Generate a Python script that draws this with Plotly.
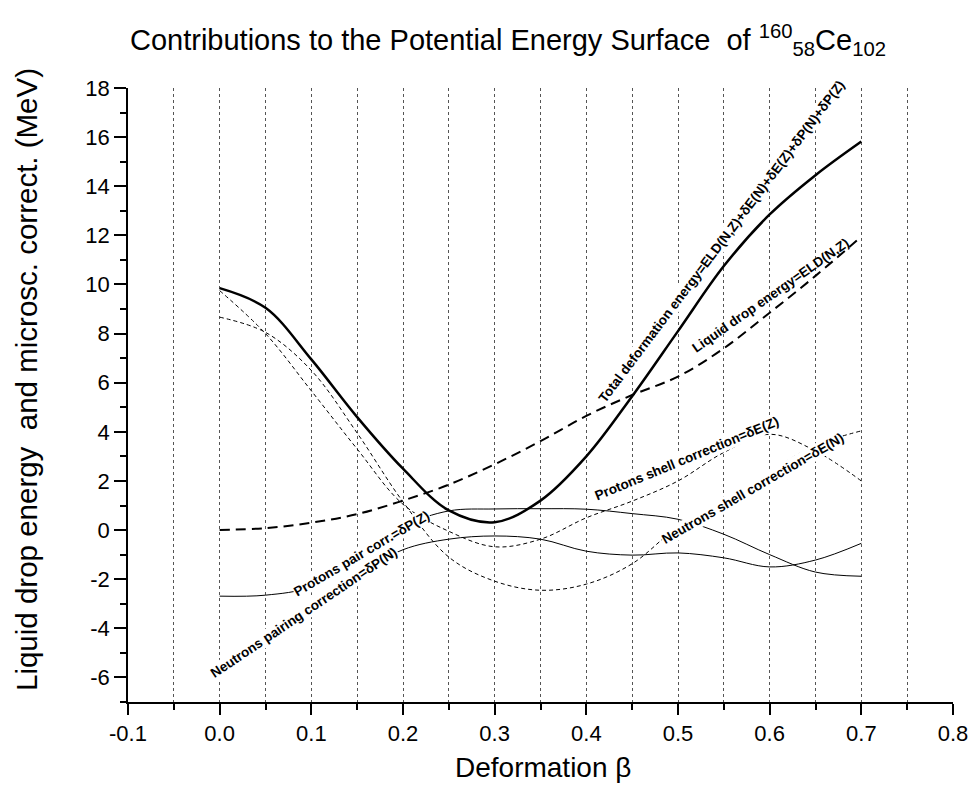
import plotly.graph_objects as go

# ---------------- data ----------------
beta = [0.00, 0.05, 0.10, 0.15, 0.20, 0.25, 0.30, 0.35, 0.40, 0.45, 0.50, 0.55, 0.60, 0.65, 0.70]
e_total = [9.85, 9.05, 6.95, 4.60, 2.50, 0.80, 0.32, 1.20, 3.00, 5.45, 8.10, 10.75, 12.85, 14.45, 15.82]
e_ld = [0.00, 0.08, 0.30, 0.65, 1.20, 1.85, 2.68, 3.62, 4.65, 5.50, 6.25, 7.40, 8.85, 10.35, 11.95]
de_z = [9.75, 8.00, 5.67, 3.30, 1.05, -0.05, -0.68, -0.37, 0.50, 1.18, 2.00, 3.16, 3.90, 3.22, 2.00]
de_n = [8.67, 8.05, 6.50, 3.95, 1.15, -1.10, -2.08, -2.45, -2.20, -1.37, 0.15, 1.30, 2.40, 3.45, 4.04]
dp_z = [-2.69, -2.65, -2.30, -1.10, 0.15, 0.78, 0.86, 0.87, 0.85, 0.67, 0.44, -0.17, -1.00, -1.71, -1.88]
dp_n = [-5.87, -4.50, -3.05, -1.85, -0.80, -0.37, -0.24, -0.37, -0.86, -1.02, -0.93, -1.13, -1.50, -1.22, -0.54]

x_tick_vals = [-0.1, 0.0, 0.1, 0.2, 0.3, 0.4, 0.5, 0.6, 0.7, 0.8]
x_tick_text = ["-0.1", "0.0", "0.1", "0.2", "0.3", "0.4", "0.5", "0.6", "0.7", "0.8"]
x_minor_vals = [-0.05, 0.05, 0.15, 0.25, 0.35, 0.45, 0.55, 0.65, 0.75]
grid_x = [-0.05, 0.0, 0.05, 0.1, 0.15, 0.2, 0.25, 0.3, 0.35, 0.4, 0.45, 0.5, 0.55, 0.6, 0.65, 0.7, 0.75]
y_tick_vals = [-6, -4, -2, 0, 2, 4, 6, 8, 10, 12, 14, 16, 18]
y_tick_text = ["-6", "-4", "-2", "0", "2", "4", "6", "8", "10", "12", "14", "16", "18"]
y_minor_vals = [-7, -5, -3, -1, 1, 3, 5, 7, 9, 11, 13, 15, 17]

label_total = "Total deformation energy=ELD(N,Z)+δE(N)+δE(Z)+δP(N)+δP(Z)"
label_ld = "Liquid drop energy=ELD(N,Z)"
label_dez = "Protons shell correction=δE(Z)"
label_den = "Neutrons shell correction=δE(N)"
label_dpz = "Protons pair corr.=δP(Z)"
label_dpn = "Neutrons pairing correction=δP(N)"

title_text = ("Contributions to the Potential Energy Surface\u00a0 of "
              "<sup>160</sup><sub>58</sub>Ce<sub>102</sub>")
x_title = "Deformation β"
y_title = "Liquid drop energy\u00a0 and microsc. correct. (MeV)"

FONT = "Liberation Sans, Arial, sans-serif"

fig = go.Figure()

# invisible trace on the grid axis so it renders
fig.add_trace(go.Scatter(x=beta, y=e_total, xaxis="x2", mode="lines",
                         line=dict(width=0, color="rgba(0,0,0,0)"),
                         hoverinfo="skip", showlegend=False))

fig.add_trace(go.Scatter(x=beta, y=e_ld, mode="lines", line_shape="spline",
                         line=dict(color="black", width=2, dash="10px,6px"), showlegend=False))
fig.add_trace(go.Scatter(x=beta, y=de_z, mode="lines", line_shape="spline",
                         line=dict(color="black", width=1, dash="4px,3px"), showlegend=False))
fig.add_trace(go.Scatter(x=beta, y=de_n, mode="lines", line_shape="spline",
                         line=dict(color="black", width=1, dash="4px,3px"), showlegend=False))
fig.add_trace(go.Scatter(x=beta, y=dp_z, mode="lines", line_shape="spline",
                         line=dict(color="black", width=1), showlegend=False))
fig.add_trace(go.Scatter(x=beta, y=dp_n, mode="lines", line_shape="spline",
                         line=dict(color="black", width=1), showlegend=False))
fig.add_trace(go.Scatter(x=beta, y=e_total, mode="lines", line_shape="spline",
                         line=dict(color="black", width=2.5), showlegend=False))

lab_font = dict(family=FONT, size=13.5, color="black", weight="bold")

def add_label(text, x, y, angle, bg=None):
    fig.add_annotation(x=x, y=y, xref="x", yref="y", text=text, showarrow=False,
                       textangle=angle, font=lab_font, xanchor="center", yanchor="middle",
                       bgcolor=bg if bg else "rgba(0,0,0,0)", borderpad=0)

add_label(label_total, 0.5475, 11.76, -53, "white")
add_label(label_ld, 0.601, 9.54, -35)
add_label(label_dez, 0.5097, 2.92, -22.5, "white")
add_label(label_den, 0.5816, 1.71, -30, "white")
add_label(label_dpz, 0.155, -0.94, -30.5, "white")
add_label(label_dpn, 0.092, -3.35, -34, "white")

# axis titles
fig.add_annotation(text=y_title, xref="paper", yref="paper", x=(26 - 128) / 825, y=(702 - 380) / 614,
                   textangle=-90, showarrow=False, xanchor="center", yanchor="middle",
                   font=dict(family=FONT, size=29.5, color="black"))
fig.add_annotation(text=x_title, xref="paper", yref="paper", x=(543 - 128) / 825, y=(702 - 767) / 614,
                   showarrow=False, xanchor="center", yanchor="middle",
                   font=dict(family=FONT, size=28, color="black"))

fig.update_layout(
    width=972, height=791,
    margin=dict(l=128, r=19, t=88, b=89, autoexpand=False),
    paper_bgcolor="white", plot_bgcolor="white",
    showlegend=False,
    title=dict(text=title_text, xref="container", yref="container",
               x=130 / 972, xanchor="left", y=1 - 40 / 791, yanchor="middle",
               font=dict(family=FONT, size=29, color="black")),
    xaxis=dict(range=[-0.1, 0.8], showline=True, linecolor="black", linewidth=1.5,
               ticks="outside", ticklen=11, tickwidth=1.5, tickcolor="black",
               tickvals=x_tick_vals, ticktext=x_tick_text,
               tickfont=dict(family=FONT, size=22, color="black"),
               showgrid=False, zeroline=False,
               minor=dict(tickvals=x_minor_vals, ticks="outside", ticklen=6,
                          tickwidth=1.5, tickcolor="black", showgrid=False)),
    xaxis2=dict(range=[-0.1, 0.8], overlaying="x", anchor="y", side="bottom",
                tickvals=grid_x, showticklabels=False, ticks="",
                showgrid=True, griddash="dot", gridcolor="#555555", gridwidth=1,
                showline=False, zeroline=False),
    yaxis=dict(range=[-7, 18], showline=True, linecolor="black", linewidth=1.5,
               ticks="outside", ticklen=12, tickwidth=1.5, tickcolor="black",
               tickvals=y_tick_vals, ticktext=y_tick_text,
               tickfont=dict(family=FONT, size=22, color="black"),
               showgrid=False, zeroline=False,
               minor=dict(tickvals=y_minor_vals, ticks="outside", ticklen=6,
                          tickwidth=1.5, tickcolor="black", showgrid=False)),
)

fig.write_html("out.html", config={"displayModeBar": False},
               post_script="document.body.style.margin='0';document.body.style.padding='0';")
